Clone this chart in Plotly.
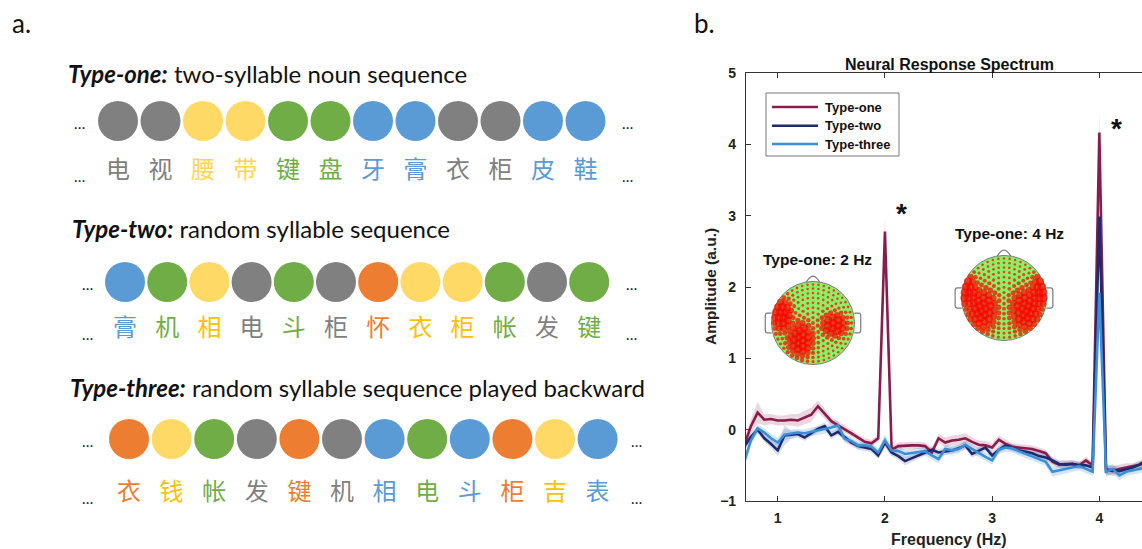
import math
import plotly.graph_objects as go

W, H = 1142, 549

# ---------------- panel a: syllable sequences ----------------
row_titles = [
    "<b><i>Type-one:</i></b> two-syllable noun sequence",
    "<b><i>Type-two:</i></b> random syllable sequence",
    "<b><i>Type-three:</i></b> random syllable sequence played backward",
]
row_chars = [
    ["电", "视", "腰", "带", "键", "盘", "牙", "膏", "衣", "柜", "皮", "鞋"],
    ["膏", "机", "相", "电", "斗", "柜", "怀", "衣", "柜", "帐", "发", "键"],
    ["衣", "钱", "帐", "发", "键", "机", "相", "电", "斗", "柜", "吉", "表"],
]
row_colors = [
    ["gray", "gray", "yellow", "yellow", "green", "green", "blue", "blue", "gray", "gray", "blue", "blue"],
    ["blue", "green", "yellow", "gray", "green", "gray", "orange", "yellow", "yellow", "green", "gray", "green"],
    ["orange", "yellow", "green", "gray", "orange", "gray", "blue", "green", "blue", "orange", "yellow", "blue"],
]

# ---------------- panel b: spectrum ----------------
freq = [0.6875, 0.75, 0.8125, 0.875, 0.9375, 1.0, 1.0625, 1.125, 1.1875, 1.25,
        1.3125, 1.375, 1.4375, 1.5, 1.5625, 1.625, 1.6875, 1.75, 1.8125, 1.875,
        1.9375, 2.0, 2.0625, 2.125, 2.1875, 2.25, 2.3125, 2.375, 2.4375, 2.5,
        2.5625, 2.625, 2.6875, 2.75, 2.8125, 2.875, 2.9375, 3.0, 3.0625, 3.125,
        3.1875, 3.25, 3.3125, 3.375, 3.4375, 3.5, 3.5625, 3.625, 3.6875, 3.75,
        3.8125, 3.875, 3.9375, 4.0, 4.0625, 4.125, 4.1875, 4.25, 4.3125, 4.375,
        4.4375]
type_one = [-0.22, 0.05, 0.24, 0.14, 0.15, 0.13, 0.13, 0.14, 0.13, 0.17,
            0.21, 0.33, 0.22, 0.12, 0.06, 0.01, -0.05, -0.11, -0.17, -0.19,
            -0.12, 2.78, -0.28, -0.23, -0.22, -0.22, -0.22, -0.23, -0.32, -0.12,
            -0.18, -0.15, -0.14, -0.12, -0.17, -0.21, -0.22, -0.25, -0.14, -0.20,
            -0.24, -0.25, -0.26, -0.27, -0.30, -0.33, -0.45, -0.49, -0.48, -0.48,
            -0.50, -0.43, -0.50, 4.17, -0.55, -0.58, -0.55, -0.53, -0.52, -0.49,
            -0.46]
type_two = [-0.24, -0.10, 0.00, -0.12, -0.20, -0.29, -0.08, -0.07, -0.06, -0.11,
            -0.05, 0.01, 0.05, -0.08, -0.03, -0.10, -0.18, -0.23, -0.25, -0.27,
            -0.36, -0.18, -0.32, -0.37, -0.44, -0.40, -0.36, -0.31, -0.28, -0.32,
            -0.31, -0.29, -0.26, -0.22, -0.34, -0.30, -0.25, -0.36, -0.28, -0.22,
            -0.26, -0.29, -0.31, -0.33, -0.37, -0.39, -0.43, -0.48, -0.49, -0.48,
            -0.50, -0.50, -0.53, 2.99, -0.58, -0.56, -0.58, -0.56, -0.53, -0.49,
            -0.42]
type_three = [-0.45, -0.15, 0.02, -0.04, -0.12, -0.18, -0.07, -0.06, -0.04, -0.05,
              -0.03, -0.01, 0.00, 0.03, 0.06, -0.13, -0.16, -0.22, -0.22, -0.24,
              -0.32, -0.15, -0.29, -0.30, -0.34, -0.33, -0.31, -0.30, -0.36, -0.41,
              -0.27, -0.29, -0.27, -0.21, -0.27, -0.33, -0.38, -0.43, -0.28, -0.25,
              -0.26, -0.30, -0.34, -0.37, -0.41, -0.45, -0.59, -0.57, -0.55, -0.53,
              -0.51, -0.55, -0.59, 1.92, -0.59, -0.55, -0.64, -0.59, -0.57, -0.55,
              -0.53]
sem_one = [0.08, 0.10, 0.15, 0.08, 0.07, 0.07, 0.07, 0.08, 0.09, 0.10,
           0.10, 0.08, 0.07, 0.06, 0.06, 0.05, 0.05, 0.05, 0.05, 0.05,
           0.05, 0.22, 0.05, 0.05, 0.05, 0.05, 0.05, 0.05, 0.06, 0.06,
           0.07, 0.07, 0.07, 0.07, 0.06, 0.06, 0.06, 0.06, 0.06, 0.06,
           0.05, 0.05, 0.05, 0.05, 0.05, 0.05, 0.05, 0.05, 0.05, 0.05,
           0.05, 0.05, 0.05, 0.28, 0.07, 0.07, 0.06, 0.06, 0.05, 0.05,
           0.05]
sem_two = [0.06, 0.06, 0.05, 0.05, 0.06, 0.08, 0.14, 0.06, 0.05, 0.05,
           0.05, 0.05, 0.05, 0.05, 0.05, 0.05, 0.05, 0.05, 0.05, 0.05,
           0.05, 0.08, 0.05, 0.05, 0.06, 0.05, 0.05, 0.05, 0.05, 0.05,
           0.05, 0.05, 0.05, 0.05, 0.05, 0.05, 0.05, 0.05, 0.05, 0.05,
           0.05, 0.05, 0.05, 0.05, 0.05, 0.05, 0.05, 0.05, 0.05, 0.05,
           0.05, 0.05, 0.05, 0.22, 0.06, 0.06, 0.06, 0.05, 0.05, 0.05,
           0.05]
sem_three = [0.07, 0.07, 0.06, 0.06, 0.06, 0.07, 0.08, 0.06, 0.05, 0.05,
             0.06, 0.06, 0.06, 0.07, 0.07, 0.06, 0.05, 0.05, 0.05, 0.05,
             0.06, 0.08, 0.07, 0.07, 0.06, 0.06, 0.06, 0.06, 0.06, 0.06,
             0.06, 0.06, 0.06, 0.06, 0.06, 0.06, 0.06, 0.06, 0.06, 0.06,
             0.06, 0.06, 0.06, 0.06, 0.06, 0.06, 0.07, 0.07, 0.06, 0.06,
             0.06, 0.06, 0.06, 0.18, 0.07, 0.07, 0.07, 0.06, 0.06, 0.06,
             0.06]
series_names = ["Type-one", "Type-two", "Type-three"]
x_ticks = [1, 2, 3, 4]
y_ticks = [-1, 0, 1, 2, 3, 4, 5]

# scalp montage (ring radius / electrode count) and activation clusters (cx, cy, sx, sy)
ring_radius = [0.0, 0.13, 0.25, 0.37, 0.49, 0.61, 0.72, 0.83, 0.93]
ring_count = [1, 6, 12, 18, 24, 30, 36, 40, 44]
clusters_2hz = [(-0.74, 0.18, 0.17, 0.28), (-0.30, -0.38, 0.22, 0.30), (0.50, -0.05, 0.22, 0.20)]
clusters_4hz = [(-0.50, -0.26, 0.26, 0.36), (0.50, -0.26, 0.26, 0.36),
                (-0.84, 0.15, 0.15, 0.28), (0.84, 0.15, 0.15, 0.28)]

# ---------------- styling ----------------
FILL = {"gray": "#808080", "yellow": "#FFD966", "green": "#70AD47", "blue": "#5B9BD5", "orange": "#ED7D31"}
INK = [
    {"gray": "#7F7F7F", "yellow": "#FFD54F", "green": "#70AD47", "blue": "#5B9BD5", "orange": "#ED7D31"},
    {"gray": "#7F7F7F", "yellow": "#FFC000", "green": "#70AD47", "blue": "#5B9BD5", "orange": "#ED7D31"},
    {"gray": "#7F7F7F", "yellow": "#FFC000", "green": "#70AD47", "blue": "#5B9BD5", "orange": "#ED7D31"},
]
row_layout = [
    dict(title_x=66, title_y=73, circle_y=121, char_y=172, x0=118, dx=42.5, dots_l=79, dots_r=627),
    dict(title_x=70, title_y=228, circle_y=282, char_y=330, x0=125, dx=42.2, dots_l=87, dots_r=631),
    dict(title_x=68, title_y=387, circle_y=439, char_y=494, x0=129, dx=42.6, dots_l=87, dots_r=636),
]
LINE_COLORS = ["#8A1C4C", "#1E2A6E", "#3B8FD8"]
BAND_COLORS = ["rgba(138,28,76,0.18)", "rgba(30,42,110,0.16)", "rgba(59,143,216,0.22)"]
LATIN = "Lato, 'Open Sans', sans-serif"
CJK = "'Noto Sans CJK SC', sans-serif"
ARIAL = "'Liberation Sans', Arial, sans-serif"
AXIS_INK = "#333333"
LEGEND_BOX = dict(left=766, right=899, top=93, bottom=156, line_x0=772, line_x1=818,
                  text_x=823, rows=[107, 125.7, 144])


def px_x(v):
    return v / W


def px_y(v):
    return 1 - v / H


def label(x, y, text, font, **kw):
    """Paper-anchored text placed by its centre, given in pixel units."""
    d = dict(x=px_x(x), y=px_y(y), xref="paper", yref="paper", text=text, showarrow=False,
             xanchor="center", yanchor="middle", font=font)
    d.update(kw)
    return d


fig = go.Figure()
annotations = []
shapes = []

# ---- panel a drawn on a pixel-unit axis pair ----
for r, (title, chars, cols) in enumerate(zip(row_titles, row_chars, row_colors)):
    L = row_layout[r]
    xs = [L["x0"] + i * L["dx"] for i in range(len(chars))]
    fig.add_trace(go.Scatter(
        x=xs, y=[L["circle_y"]] * len(xs), mode="markers",
        marker=dict(size=40, color=[FILL[c] for c in cols], line=dict(width=0)),
        xaxis="x2", yaxis="y2", showlegend=False, hoverinfo="skip"))
    fig.add_trace(go.Scatter(
        x=xs, y=[L["char_y"]] * len(xs), mode="text", text=chars,
        textfont=dict(family=CJK, size=24, color=[INK[r][c] for c in cols]),
        xaxis="x2", yaxis="y2", showlegend=False, hoverinfo="skip"))
    annotations.append(dict(x=L["title_x"], y=L["title_y"], xref="x2", yref="y2", text=title,
                            showarrow=False, xanchor="left", yanchor="middle",
                            font=dict(family=LATIN, size=24, color="#111111")))
    for yy in (L["circle_y"] + 2, L["char_y"] + 4):
        for xx in (L["dots_l"], L["dots_r"]):
            annotations.append(dict(x=xx, y=yy, xref="x2", yref="y2", text="…", showarrow=False,
                                    xanchor="center", yanchor="middle",
                                    font=dict(family=LATIN, size=15, color="#222222")))

panel_font = dict(family=LATIN, size=26, color="#111111")
annotations.append(label(21, 23, "a.", panel_font))
annotations.append(label(704, 23, "b.", panel_font))

# ---- panel b: spectrum with shaded error bands ----
for name, vals, sem, lc, bc in zip(series_names, [type_one, type_two, type_three],
                                   [sem_one, sem_two, sem_three], LINE_COLORS, BAND_COLORS):
    upper = [v + s for v, s in zip(vals, sem)]
    lower = [v - s for v, s in zip(vals, sem)]
    fig.add_trace(go.Scatter(x=freq, y=upper, mode="lines", line=dict(width=0, color=bc),
                             showlegend=False, hoverinfo="skip"))
    fig.add_trace(go.Scatter(x=freq, y=lower, mode="lines", line=dict(width=0, color=bc),
                             fill="tonexty", fillcolor=bc, showlegend=False, hoverinfo="skip"))
for name, vals, lc in zip(series_names, [type_one, type_two, type_three], LINE_COLORS):
    fig.add_trace(go.Scatter(x=freq, y=vals, mode="lines", name=name, showlegend=False,
                             line=dict(color=lc, width=2.6)))

# boxed key for the three series
shapes.append(dict(type="rect", xref="paper", yref="paper",
                   x0=px_x(LEGEND_BOX["left"]), x1=px_x(LEGEND_BOX["right"]),
                   y0=px_y(LEGEND_BOX["bottom"]), y1=px_y(LEGEND_BOX["top"]),
                   fillcolor="white", line=dict(color="#777777", width=1)))
for name, lc, ry in zip(series_names, LINE_COLORS, LEGEND_BOX["rows"]):
    shapes.append(dict(type="line", xref="paper", yref="paper",
                       x0=px_x(LEGEND_BOX["line_x0"]), x1=px_x(LEGEND_BOX["line_x1"]),
                       y0=px_y(ry), y1=px_y(ry), line=dict(color=lc, width=2.6)))
    annotations.append(label(LEGEND_BOX["text_x"], ry, f"<b>{name}</b>",
                             dict(family=ARIAL, size=13, color="#111111"), xanchor="left"))

annotations += [
    label(949, 64, "<b>Neural Response Spectrum</b>", dict(family=ARIAL, size=16, color="#111111")),
    label(949, 539, "<b>Frequency (Hz)</b>", dict(family=ARIAL, size=16, color="#222222")),
    label(710, 287, "<b>Amplitude (a.u.)</b>", dict(family=ARIAL, size=15.5, color="#222222"), textangle=-90),
    label(901, 213, "<b>*</b>", dict(family=ARIAL, size=28, color="#111111")),
    label(1116, 128, "<b>*</b>", dict(family=ARIAL, size=28, color="#111111")),
    label(817, 260, "<b>Type-one: 2 Hz</b>", dict(family=ARIAL, size=15.5, color="#111111")),
    label(1009, 233, "<b>Type-one: 4 Hz</b>", dict(family=ARIAL, size=15.5, color="#111111")),
]

# ---- scalp topographies ----
def montage():
    xs, ys = [], []
    for rad, n in zip(ring_radius, ring_count):
        for k in range(n):
            a = math.pi / 2 + 2 * math.pi * k / n
            xs.append(rad * math.cos(a))
            ys.append(rad * math.sin(a))
    return xs, ys


def dot_sizes(xs, ys, clusters):
    out = []
    for x, y in zip(xs, ys):
        w = 0.0
        for cx, cy, sx, sy in clusters:
            w = max(w, math.exp(-((x - cx) ** 2 / (2 * sx ** 2) + (y - cy) ** 2 / (2 * sy ** 2))))
        out.append(2.5 + 6.0 * min(1.0, w * 1.35))
    return out


topos = [("x3", "y3", 813, 323, 41.5, clusters_2hz), ("x4", "y4", 1004, 298, 42.5, clusters_4hz)]
ex, ey = montage()
for xa, ya, cx, cy, rpx, cl in topos:
    fig.add_trace(go.Scatter(x=ex, y=ey, mode="markers", xaxis=xa, yaxis=ya,
                             marker=dict(size=dot_sizes(ex, ey, cl), color="#FF0000", line=dict(width=0)),
                             showlegend=False, hoverinfo="skip"))
    shapes.append(dict(type="circle", xref=xa, yref=ya, x0=-1, x1=1, y0=-1, y1=1, layer="below",
                       fillcolor="#8AF066", line=dict(color="#7a7a7a", width=1)))
    shapes.append(dict(type="path", xref=xa, yref=ya,
                       path="M -0.16 0.985 Q -0.08 1.12 0 1.13 Q 0.08 1.12 0.16 0.985",
                       line=dict(color="#7a7a7a", width=1.2), layer="below"))
    for s in (-1, 1):
        shapes.append(dict(type="path", xref=xa, yref=ya,
                           path=f"M {s*0.995} 0.24 L {s*1.10} 0.24 Q {s*1.15} 0.24 {s*1.15} 0.17 "
                                f"L {s*1.15} -0.17 Q {s*1.15} -0.24 {s*1.10} -0.24 L {s*0.995} -0.24",
                           line=dict(color="#7a7a7a", width=1.2), layer="below"))

axis_font = dict(family=ARIAL, size=14, color="#222222", weight="bold")
hidden = dict(visible=False, showgrid=False, zeroline=False, fixedrange=True)

layout = dict(
    width=W, height=H, margin=dict(l=0, r=0, t=0, b=0, autoexpand=False),
    paper_bgcolor="white", plot_bgcolor="rgba(0,0,0,0)",
    showlegend=False,
    xaxis=dict(domain=[px_x(746), 1.0], range=[0.704, 4.398], tickvals=x_ticks,
               ticks="inside", ticklen=5, tickcolor=AXIS_INK, showline=True, linecolor=AXIS_INK,
               linewidth=1.2, mirror="ticks", showgrid=False, zeroline=False,
               tickfont=axis_font, ticklabelstandoff=4, anchor="y", automargin=False),
    yaxis=dict(domain=[px_y(501), px_y(73.3)], range=[-1, 5], tickvals=y_ticks,
               ticks="inside", ticklen=5, tickcolor=AXIS_INK, showline=True, linecolor=AXIS_INK,
               linewidth=1.2, showgrid=False, zeroline=False, tickfont=axis_font,
               ticklabelstandoff=6, anchor="x", automargin=False),
    xaxis2=dict(domain=[0, 680 / W], range=[0, 680], anchor="y2", **hidden),
    yaxis2=dict(domain=[0, 1], range=[H, 0], anchor="x2", **hidden),
    annotations=annotations,
    shapes=shapes,
)
for i, (xa, ya, cx, cy, rpx, cl) in enumerate(topos):
    half = rpx * 1.25
    layout["xaxis" + xa[1:]] = dict(domain=[px_x(cx - half), px_x(cx + half)], range=[-1.25, 1.25],
                                    anchor=ya, **hidden)
    layout["yaxis" + ya[1:]] = dict(domain=[px_y(cy + half), px_y(cy - half)], range=[-1.25, 1.25],
                                    anchor=xa, **hidden)

fig.update_layout(**layout)
fig.write_html("out.html", config={"displayModeBar": False})
